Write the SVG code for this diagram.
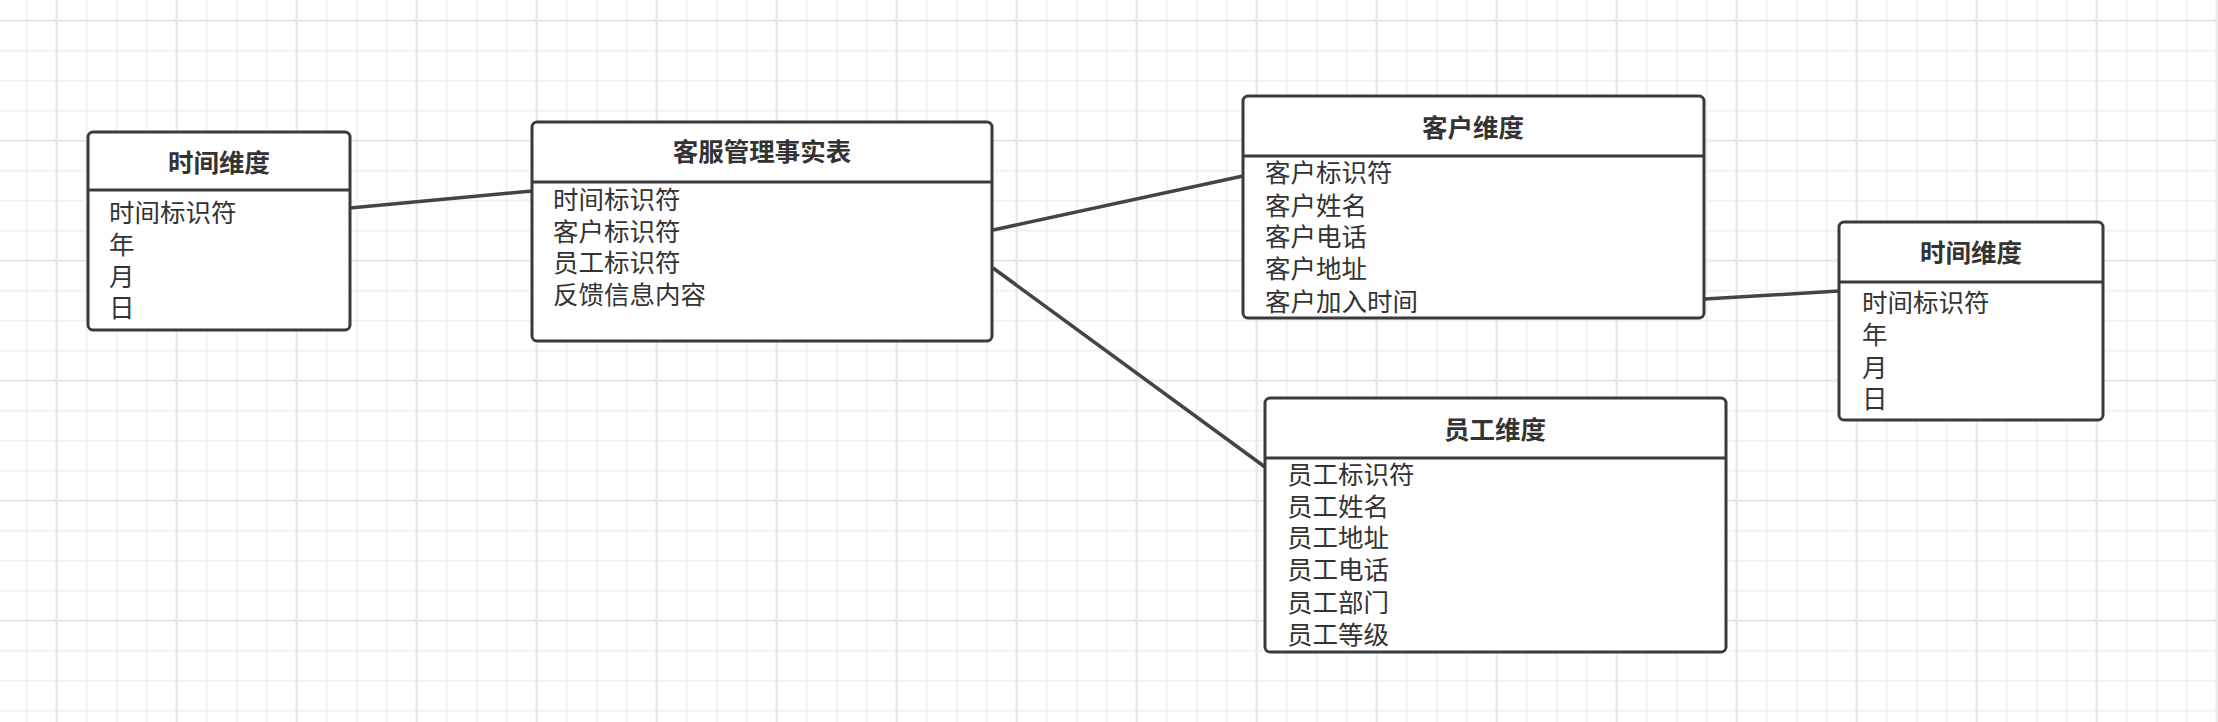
<svg xmlns="http://www.w3.org/2000/svg" width="2218" height="722" viewBox="0 0 2218 722">
<style>
.box{fill:#ffffff;stroke:#3a3a3a;stroke-width:3}
.div{stroke:#3a3a3a;stroke-width:3}
.title{font-family:"Liberation Sans","Noto Sans CJK SC",sans-serif;font-size:25.5px;font-weight:bold;fill:#333333;text-anchor:middle;dominant-baseline:central}
.item{font-family:"Liberation Sans","Noto Sans CJK SC",sans-serif;font-size:25.5px;fill:#333333;dominant-baseline:central}
.conn{stroke:#444444;stroke-width:3.5;fill:none}
</style>
<defs>
<pattern id="minor" x="25.7" y="19.7" width="30" height="30" patternUnits="userSpaceOnUse">
<rect x="0" y="0" width="2" height="30" fill="#f2f2f2"/>
<rect x="0" y="0" width="30" height="2" fill="#f2f2f2"/>
</pattern>
<pattern id="major" x="55.7" y="19.7" width="120" height="120" patternUnits="userSpaceOnUse">
<rect x="0" y="0" width="2" height="120" fill="#e8e8e8"/>
<rect x="0" y="0" width="120" height="2" fill="#e8e8e8"/>
</pattern>
</defs>
<rect width="2218" height="722" fill="#ffffff"/>
<rect width="2218" height="722" fill="url(#minor)"/>
<rect width="2218" height="722" fill="url(#major)"/>

<g id="connectors">
<line class="conn" x1="350" y1="208" x2="532" y2="191"/>
<line class="conn" x1="993" y1="230" x2="1243" y2="176"/>
<line class="conn" x1="993" y1="268" x2="1265" y2="467"/>
<line class="conn" x1="1705" y1="299" x2="1839" y2="291"/>
</g>

<g id="time1">
<rect class="box" x="88" y="132" width="262" height="198" rx="5"/>
<line class="div" x1="88" y1="190" x2="350" y2="190"/>
<text class="title" x="219" y="162.5">时间维度</text>
<text class="item" x="109" y="212.5">时间标识符</text>
<text class="item" x="109" y="244.5">年</text>
<text class="item" x="109" y="276.5">月</text>
<text class="item" x="109" y="307.5">日</text>
</g>

<g id="fact">
<rect class="box" x="532" y="122" width="460" height="219" rx="5"/>
<line class="div" x1="532" y1="182" x2="992" y2="182"/>
<text class="title" x="762" y="151.5">客服管理事实表</text>
<text class="item" x="553" y="199.5">时间标识符</text>
<text class="item" x="553" y="231.5">客户标识符</text>
<text class="item" x="553" y="262.5">员工标识符</text>
<text class="item" x="553" y="294.5">反馈信息内容</text>
</g>

<g id="customer">
<rect class="box" x="1243" y="96" width="461" height="222" rx="5"/>
<line class="div" x1="1243" y1="156" x2="1704" y2="156"/>
<text class="title" x="1473" y="127.5">客户维度</text>
<text class="item" x="1265" y="172.5">客户标识符</text>
<text class="item" x="1265" y="205.5">客户姓名</text>
<text class="item" x="1265" y="236.5">客户电话</text>
<text class="item" x="1265" y="268.5">客户地址</text>
<text class="item" x="1265" y="301.5">客户加入时间</text>
</g>

<g id="time2">
<rect class="box" x="1839" y="222" width="264" height="198" rx="5"/>
<line class="div" x1="1839" y1="282" x2="2103" y2="282"/>
<text class="title" x="1971" y="252.5">时间维度</text>
<text class="item" x="1862" y="302.5">时间标识符</text>
<text class="item" x="1862" y="334.5">年</text>
<text class="item" x="1862" y="367.5">月</text>
<text class="item" x="1862" y="398.5">日</text>
</g>

<g id="employee">
<rect class="box" x="1265" y="398" width="461" height="254" rx="5"/>
<line class="div" x1="1265" y1="458" x2="1726" y2="458"/>
<text class="title" x="1495" y="429.5">员工维度</text>
<text class="item" x="1287" y="474.5">员工标识符</text>
<text class="item" x="1287" y="506.5">员工姓名</text>
<text class="item" x="1287" y="537.5">员工地址</text>
<text class="item" x="1287" y="569.5">员工电话</text>
<text class="item" x="1287" y="602.5">员工部门</text>
<text class="item" x="1287" y="634.5">员工等级</text>
</g>
</svg>
